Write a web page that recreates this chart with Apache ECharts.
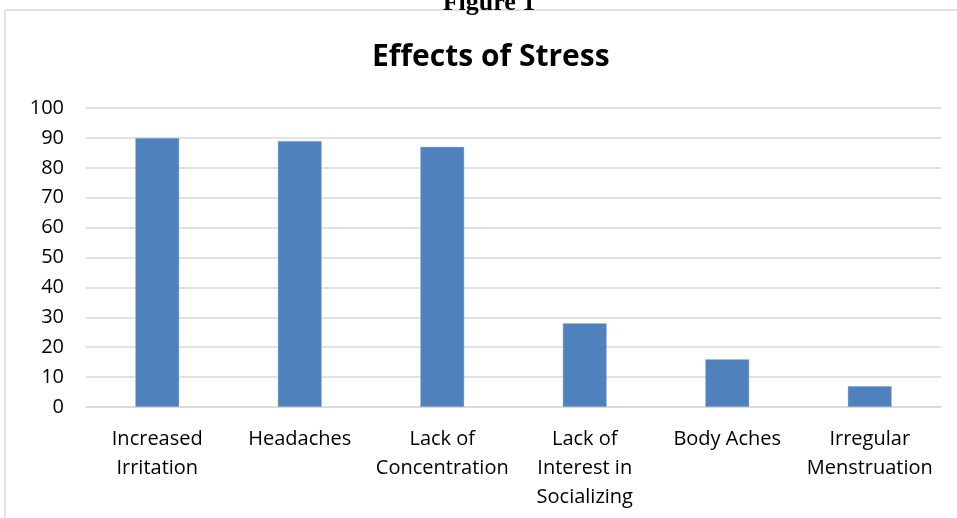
<!DOCTYPE html>
<html><head><meta charset="utf-8">
<script src="https://cdn.jsdelivr.net/npm/echarts@6/dist/echarts.min.js"></script>
<style>html,body{margin:0;padding:0;background:#fff}#c{width:957px;height:518px}</style>
</head><body><div id="c"></div>
<script>
const categories = ['Increased\nIrritation', 'Headaches', 'Lack of\nConcentration', 'Lack of\nInterest in\nSocializing', 'Body Aches', 'Irregular\nMenstruation'];
const values = [90, 89, 87, 28, 16, 7];
const chartTitle = 'Effects of Stress';
const figureLabel = 'Figure 1';

const chart = echarts.init(document.getElementById('c'), null, {renderer: 'canvas'});
chart.setOption({
  backgroundColor: '#fff',
  animation: false,
  graphic: [
    {type: 'rect', shape: {x: 5, y: 10, width: 1000, height: 600}, style: {fill: '#fff', stroke: '#d9d9d9', lineWidth: 1.5}, z: -10},
    {type: 'text', x: 489, y: -10, style: {text: figureLabel, align: 'center', font: 'bold 26px "Liberation Serif"', fill: '#000'}, z: -5}
  ],
  title: {
    text: chartTitle, left: 367, top: 37,
    textStyle: {fontFamily: 'Open Sans', fontWeight: 'bold', fontSize: 30, color: '#000'}
  },
  grid: {left: 86, right: 16, top: 108, bottom: 111, containLabel: false},
  xAxis: {
    type: 'category', data: categories,
    axisLine: {lineStyle: {color: '#d9d9d9', width: 1.5}},
    axisTick: {show: false},
    axisLabel: {interval: 0, fontFamily: 'Open Sans', fontSize: 20, color: '#000', lineHeight: 29, margin: 18}
  },
  yAxis: {
    type: 'value', min: 0, max: 100, interval: 10,
    axisLine: {show: false}, axisTick: {show: false},
    splitLine: {lineStyle: {color: '#d9d9d9', width: 1.5}},
    axisLabel: {fontFamily: 'Open Sans', fontSize: 20, color: '#000', margin: 22}
  },
  series: [{
    type: 'bar', data: values, barWidth: 44,
    itemStyle: {color: '#4f81bd', borderColor: '#a7c0e0', borderWidth: 0.5}
  }]
});
</script></body></html>
